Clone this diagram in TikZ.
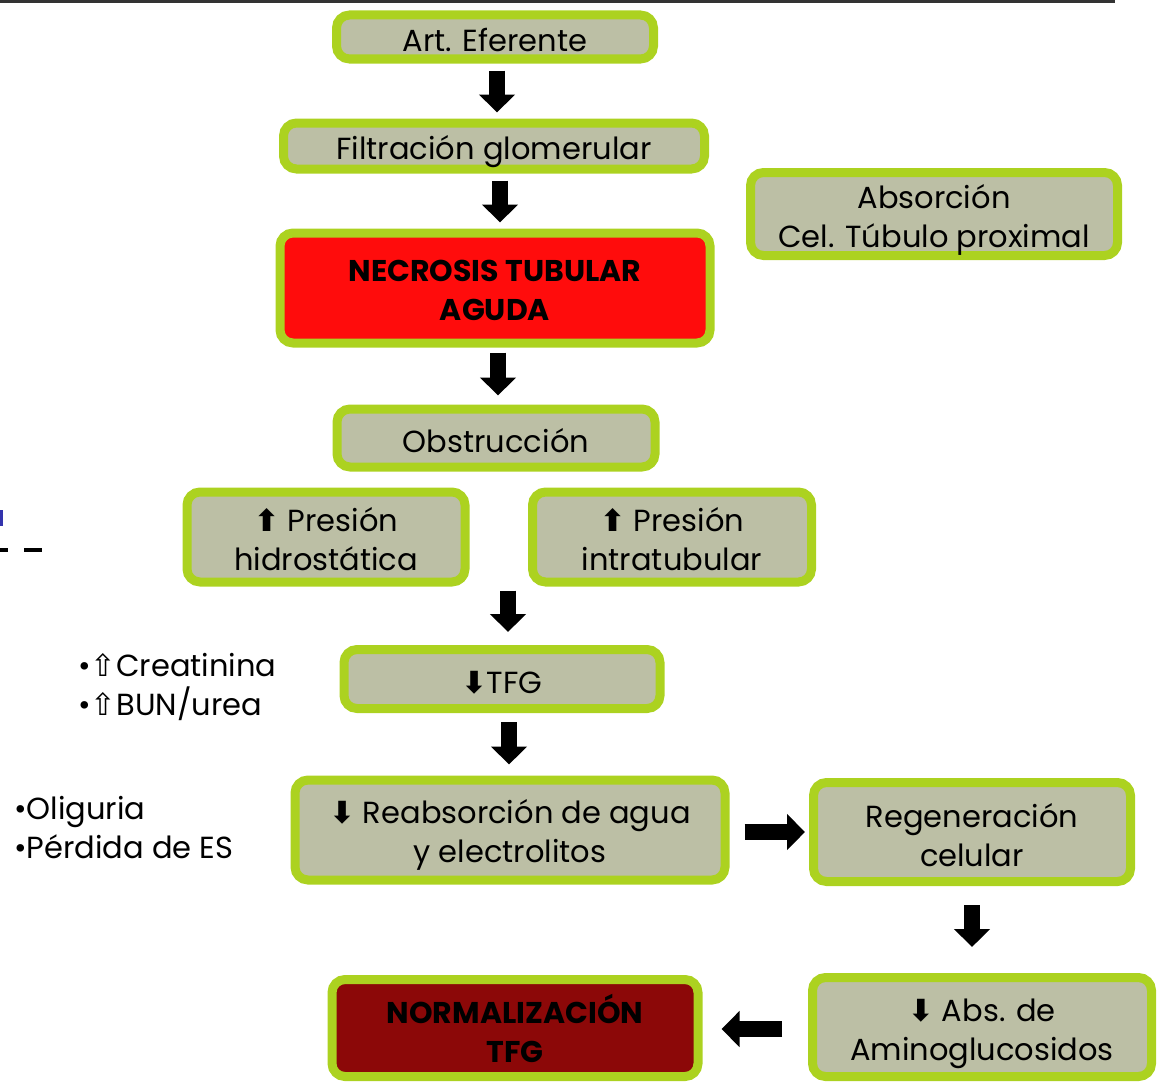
\documentclass[tikz,border=0pt]{standalone}
\usepackage{fontspec}
\setmainfont{Poppins}
\newfontfamily\symfont{DejaVu Sans}
\usetikzlibrary{arrows.meta,shadows}
\definecolor{boxgreen}{RGB}{172,210,32}
\definecolor{boxgray}{RGB}{188,191,165}
\definecolor{necred}{RGB}{255,12,12}
\definecolor{normred}{RGB}{140,8,8}
\newcommand{\dnarr}{{\symfont\bfseries ⬇}}
\newcommand{\uparr}{{\symfont\bfseries ⬆}}
\newcommand{\lft}[1]{\rule{0pt}{#1}}
\begin{document}
\begin{tikzpicture}[x=1pt,y=-1pt,
  lift/.style={execute at begin node={\rule{0pt}{#1}}},
  box/.style={draw=boxgreen, line width=9pt, fill=boxgray, rounded corners=13pt,
    inner sep=0pt, align=center, font=\fontsize{30.5}{39}\selectfont, lift=30pt,
    drop shadow={shadow xshift=2pt, shadow yshift=-3pt, opacity=0.35, fill=black!70}},
  boldbox/.style={box, font=\fontsize{30}{39}\selectfont\bfseries},
  blockarrow/.style={line width=16pt, draw=black, -{Triangle[length=18pt,width=35pt]}},
  sidetext/.style={anchor=west, inner sep=0pt, align=left, font=\fontsize{30.5}{39}\selectfont}
]
\useasboundingbox (0,0) rectangle (1158,1081);
% top rule and left-edge fragments
\fill[black!80] (0,0) rectangle (1115,3);
\fill[blue!60!black!80] (0,510) rectangle (3,526);
\fill[black] (0,548) rectangle (8,552);
\fill[black] (24,548) rectangle (42,552);

\node[box, minimum width=317, minimum height=44] (art) at (495,37) {Art. Eferente};
\node[box, lift=36pt, minimum width=421, minimum height=46] (filt) at (494,146) {Filtración glomerular};
\node[box, minimum width=367, minimum height=83] (abs) at (934,214) {\lft{36pt}Absorción\\Cel. Túbulo proximal};
\node[boldbox, fill=necred, minimum width=430, minimum height=110] (nta) at (495,288) {\lft{26pt}NECROSIS TUBULAR\\AGUDA};
\node[box, minimum width=318, minimum height=58] (obs) at (496,438) {Obstrucción};
\node[box, minimum width=278, minimum height=90] (ph) at (326,537) {\lft{28pt}\uparr\ Presión\\hidrostática};
\node[box, minimum width=279, minimum height=90] (pi) at (672,537) {\lft{28pt}\uparr\ Presión\\intratubular};
\node[box, minimum width=316, minimum height=59] (tfg) at (502,679) {\dnarr TFG};
\node[box, minimum width=430, minimum height=100] (reab) at (510,830) {\lft{34pt}\dnarr\ Reabsorción de agua\\y electrolitos};
\node[box, minimum width=317, minimum height=99] (reg) at (972,832) {\lft{30pt}Regeneración\\celular};
\node[box, minimum width=339, minimum height=99] (amino) at (982,1027) {\lft{36pt}\dnarr\ Abs. de\\Aminoglucosidos};
\node[boldbox, fill=normred, minimum width=366, minimum height=97] (norm) at (515,1028) {NORMALIZACIÓN\\TFG};

\node[sidetext] (lab) at (78,687) {•{\symfont ⇧}Creatinina\\•{\symfont ⇧}BUN/urea};
\node[sidetext] (sym) at (14,828) {•Oliguria\\•Pérdida de ES};

\draw[blockarrow, shorten <=7pt, shorten >=6pt] ([xshift=2pt]art.south) -- ([xshift=2pt]art.south |- filt.north);
\draw[blockarrow, shorten <=7pt, shorten >=6pt] ([xshift=6pt]filt.south) -- ([xshift=6pt]filt.south |- nta.north);
\draw[blockarrow, shorten <=5pt, shorten >=9pt] ([xshift=3pt]nta.south) -- ([xshift=3pt]nta.south |- obs.north);
\draw[blockarrow, shorten <=4pt, shorten >=13pt] ([xshift=6pt]tfg.north |- ph.south) -- ([xshift=6pt]tfg.north);
\draw[blockarrow, shorten <=9pt, shorten >=11pt] ([xshift=7pt]tfg.south) -- ([xshift=7pt]tfg.south |- reab.north);
\draw[blockarrow, shorten <=15pt, shorten >=4pt] ([yshift=-2pt]reab.east) -- ([yshift=-2pt]reab.east -| reg.west);
\draw[blockarrow, shorten <=19pt, shorten >=26pt] (reg.south) -- (reg.south |- amino.north);
\draw[blockarrow, shorten <=26pt, shorten >=19pt] ([yshift=-2pt]amino.west) -- ([yshift=-2pt]amino.west -| norm.east);
\end{tikzpicture}
\end{document}
